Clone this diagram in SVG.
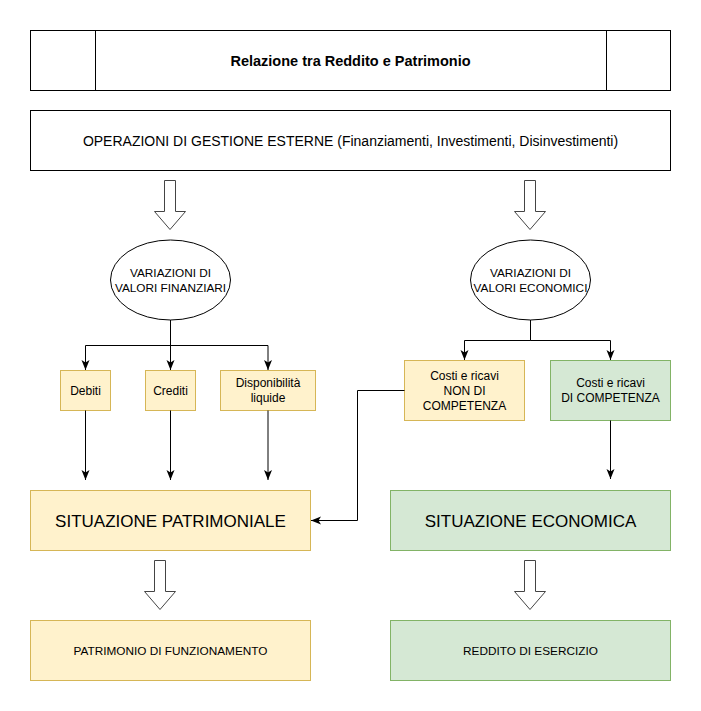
<svg xmlns="http://www.w3.org/2000/svg" width="701" height="711" viewBox="0 0 701 711">
<defs>
<style>
text{font-family:"Liberation Sans",Arial,sans-serif;fill:#000;text-anchor:middle}
.plain{fill:#fff;stroke:#000;stroke-width:1}
.yel{fill:#fff2cc;stroke:#d6b656;stroke-width:1}
.grn{fill:#d5e8d4;stroke:#82b366;stroke-width:1}
.blk{fill:#fff;stroke:#444;stroke-width:1}
.edge{fill:none;stroke:#000;stroke-width:1;marker-end:url(#arr)}
.ell{font-size:11.8px}
.sm{font-size:12px}
.big{font-size:17px}
.bot{font-size:11.8px}
</style>
<marker id="arr" markerUnits="userSpaceOnUse" viewBox="0 0 10 10" markerWidth="10" markerHeight="10" refX="10" refY="5" orient="auto">
<path d="M0,1 L10,5 L0,9 L2.5,5 z" fill="#000"/>
</marker>
</defs>
<rect width="701" height="711" fill="#fff"/>

<g id="title">
<rect class="plain" x="30.5" y="30.5" width="640" height="60"/>
<line x1="95.5" y1="30.5" x2="95.5" y2="90.5" stroke="#000"/>
<line x1="606.5" y1="30.5" x2="606.5" y2="90.5" stroke="#000"/>
<text x="350.5" y="65.5" font-size="14.5" font-weight="bold">Relazione tra Reddito e Patrimonio</text>
</g>

<g id="operazioni">
<rect class="plain" x="30.5" y="110.5" width="640" height="60"/>
<text x="350.5" y="145.5" font-size="14">OPERAZIONI DI GESTIONE ESTERNE (Finanziamenti, Investimenti, Disinvestimenti)</text>
</g>

<g id="blockarrows">
<polygon class="blk" points="164.5,180.5 175.5,180.5 175.5,211.5 185.5,211.5 170,229.5 154.5,211.5 164.5,211.5"/>
<polygon class="blk" points="524.5,180.5 535.5,180.5 535.5,211.5 545.5,211.5 530,229.5 514.5,211.5 524.5,211.5"/>
<polygon class="blk" points="154.5,560.5 165.5,560.5 165.5,591.5 175.5,591.5 160,609.5 144.5,591.5 154.5,591.5"/>
<polygon class="blk" points="524.5,560.5 535.5,560.5 535.5,591.5 545.5,591.5 530,609.5 514.5,591.5 524.5,591.5"/>
</g>

<g id="var-fin">
<ellipse class="plain" cx="170.5" cy="280" rx="60" ry="40"/>
<text class="ell" x="170.5" y="277">VARIAZIONI DI</text>
<text class="ell" x="170.5" y="292">VALORI FINANZIARI</text>
</g>

<g id="var-eco">
<ellipse class="plain" cx="530.5" cy="280" rx="60" ry="40"/>
<text class="ell" x="530.5" y="277">VARIAZIONI DI</text>
<text class="ell" x="530.5" y="292">VALORI ECONOMICI</text>
</g>

<g id="debiti">
<rect class="yel" x="60.5" y="370.5" width="50" height="40"/>
<text class="sm" x="85.5" y="394.5">Debiti</text>
</g>
<g id="crediti">
<rect class="yel" x="145.5" y="370.5" width="50" height="40"/>
<text class="sm" x="170.5" y="394.5">Crediti</text>
</g>
<g id="disponibilita">
<rect class="yel" x="220.5" y="370.5" width="95" height="40"/>
<text class="sm" x="268" y="386.5">Disponibilità</text>
<text class="sm" x="268" y="402">liquide</text>
</g>

<g id="non-competenza">
<rect class="yel" x="404.5" y="360.5" width="120" height="60"/>
<text class="sm" x="464.5" y="380">Costi e ricavi</text>
<text class="sm" x="464.5" y="395">NON DI</text>
<text class="sm" x="464.5" y="409.5">COMPETENZA</text>
</g>
<g id="competenza">
<rect class="grn" x="550.5" y="360.5" width="120" height="60"/>
<text class="sm" x="610.5" y="386.5">Costi e ricavi</text>
<text class="sm" x="610.5" y="401.5">DI COMPETENZA</text>
</g>

<g id="sit-patrimoniale">
<rect class="yel" x="30.5" y="490.5" width="280" height="60"/>
<text class="big" x="170.5" y="526.5">SITUAZIONE PATRIMONIALE</text>
</g>
<g id="sit-economica">
<rect class="grn" x="390.5" y="490.5" width="280" height="60"/>
<text class="big" x="530.5" y="526.5">SITUAZIONE ECONOMICA</text>
</g>

<g id="patrimonio">
<rect class="yel" x="30.5" y="620.5" width="280" height="60"/>
<text class="bot" x="170.5" y="654.5">PATRIMONIO DI FUNZIONAMENTO</text>
</g>
<g id="reddito">
<rect class="grn" x="390.5" y="620.5" width="280" height="60"/>
<text class="bot" x="530.5" y="654.5">REDDITO DI ESERCIZIO</text>
</g>

<g id="connectors">
<path class="edge" d="M170.5,320 V345.5 H85.5 V370"/>
<path class="edge" d="M170.5,320 V370"/>
<path class="edge" d="M170.5,320 V345.5 H268 V370"/>
<path class="edge" d="M85.5,410.5 V480"/>
<path class="edge" d="M170.5,410.5 V480"/>
<path class="edge" d="M268,410.5 V480"/>
<path class="edge" d="M530.5,320 V340.5 H464.5 V360"/>
<path class="edge" d="M530.5,320 V340.5 H610.5 V360"/>
<path class="edge" d="M610.5,420.5 V479"/>
<path class="edge" d="M404.5,390.5 H357.5 V520.5 H311"/>
</g>
</svg>
